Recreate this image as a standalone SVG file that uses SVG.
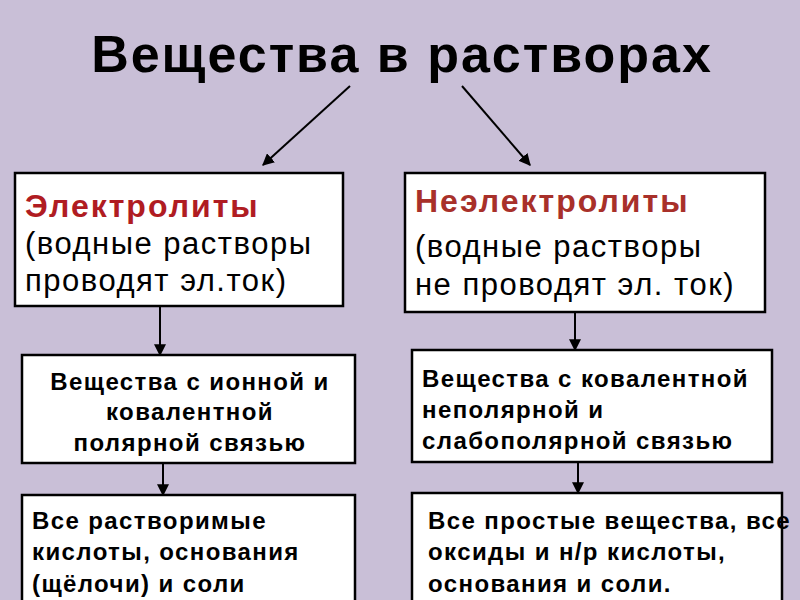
<svg xmlns="http://www.w3.org/2000/svg" width="800" height="600" viewBox="0 0 800 600">
<defs>
<style>
.box{fill:#fff;stroke:#000;stroke-width:2.5}
.t{font-family:"Liberation Sans",Arial,sans-serif;fill:#000}
.big{font-size:31px;letter-spacing:1.5px}
.mid{font-size:24px;font-weight:bold;letter-spacing:1.4px}
.red{font-size:32px;font-weight:bold;letter-spacing:2px;fill:#b01c22}
.ln{stroke:#000;stroke-width:2;fill:none;marker-end:url(#a)}
</style>
<marker id="a" viewBox="0 0 10 10" refX="9" refY="5" markerWidth="6" markerHeight="6" orient="auto"><path d="M0,0L10,5L0,10z" fill="#000"/></marker>
</defs>
<rect width="800" height="600" fill="#c9bfd7"/>
<text class="t" x="402" y="72" text-anchor="middle" font-size="52" font-weight="bold" letter-spacing="2">Вещества в растворах</text>
<g id="connectors">
<line class="ln" x1="350" y1="86" x2="263" y2="165"/>
<line class="ln" x1="462" y1="86" x2="530" y2="165"/>
<line class="ln" x1="160" y1="306" x2="160" y2="355"/>
<line class="ln" x1="575" y1="313" x2="575" y2="350"/>
<line class="ln" x1="163" y1="463" x2="163" y2="495"/>
<line class="ln" x1="578" y1="462" x2="578" y2="493"/>
</g>
<g id="n1"><rect class="box" x="15" y="173" width="328" height="133"/>
<text class="t red" x="25" y="217">Электролиты</text>
<text class="t big" x="25" y="254">(водные растворы</text>
<text class="t big" x="25" y="291">проводят эл.ток)</text></g>
<g id="n2"><rect class="box" x="405" y="173" width="360" height="139"/>
<text class="t red" x="415" y="212" style="fill:#a8302a">Неэлектролиты</text>
<text class="t big" x="415" y="257">(водные растворы</text>
<text class="t big" x="415" y="295">не проводят эл. ток)</text></g>
<g id="n3"><rect class="box" x="22" y="355" width="333" height="108"/>
<text class="t mid" x="190" y="390" text-anchor="middle">Вещества с ионной и</text>
<text class="t mid" x="190" y="420" text-anchor="middle">ковалентной</text>
<text class="t mid" x="190" y="451" text-anchor="middle">полярной связью</text></g>
<g id="n4"><rect class="box" x="412" y="350" width="360" height="112"/>
<text class="t mid" x="422" y="387">Вещества с ковалентной</text>
<text class="t mid" x="422" y="418">неполярной и</text>
<text class="t mid" x="422" y="449">слабополярной связью</text></g>
<g id="n5"><rect class="box" x="22" y="495" width="333" height="120"/>
<text class="t mid" x="32" y="529">Все растворимые</text>
<text class="t mid" x="32" y="560">кислоты, основания</text>
<text class="t mid" x="32" y="592">(щёлочи) и соли</text></g>
<g id="n6"><rect class="box" x="412" y="493" width="370" height="122"/>
<text class="t mid" x="428" y="529">Все простые вещества, все</text>
<text class="t mid" x="428" y="560">оксиды и н/р кислоты,</text>
<text class="t mid" x="428" y="592">основания и соли.</text></g>
</svg>
